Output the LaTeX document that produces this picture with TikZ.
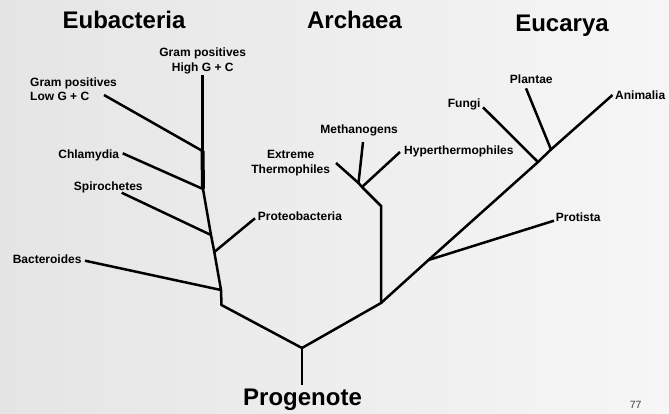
\documentclass[tikz,border=0pt]{standalone}
\usepackage{fontspec}
\setmainfont{Liberation Sans}
\definecolor{sfondosx}{HTML}{E5E5E5}
\definecolor{sfondodx}{HTML}{F6F6F6}
\definecolor{numero}{HTML}{404040}
\begin{document}
\begin{tikzpicture}[x=1pt, y=-1pt,
  ramo/.style={line width=2.5pt},
  taxon/.style={font=\fontsize{12}{14.4}\selectfont\bfseries, inner sep=0pt},
  dominio/.style={font=\fontsize{24}{28}\selectfont\bfseries, inner sep=0pt}]
% sfondo
\shade[left color=sfondosx, right color=sfondodx] (0, 0) rectangle (669, 413);
\useasboundingbox (0, 0) rectangle (669, 413);
% titoli
\node[dominio, anchor=base] (eub) at (124, 28) {Eubacteria};
\node[dominio, anchor=base] (arc) at (354.5, 28) {Archaea};
\node[dominio, anchor=base] (euc) at (562, 31) {Eucarya};
\node[dominio, anchor=base] (prog) at (302.5, 405) {Progenote};
\node[font=\fontsize{10.5}{12}\selectfont, text=numero, inner sep=0pt, anchor=base] (pag) at (635.7, 408) {77};
% radice
\coordinate (r0) at (302, 348);
\coordinate (pbase) at (302, 385);
\draw[ramo] (pbase) -- (r0);
% eubatteri
\coordinate (eb0) at (221.5, 305);
\coordinate (eb1) at (221, 290);
\coordinate (eb2) at (214.3, 252);
\coordinate (eb3) at (211, 235);
\coordinate (eb4) at (203, 189);
\coordinate (eb5) at (202.5, 151);
\coordinate (fHigh) at (202.5, 75);
\coordinate (fLow) at (104, 95);
\coordinate (fChl) at (122.7, 153.3);
\coordinate (fSpi) at (121.7, 192.7);
\coordinate (fPro) at (255, 218.3);
\coordinate (fBac) at (85, 260.7);
\node[taxon, align=center] (high) at (202.7, 61) {Gram positives\\High G + C};
\node[taxon, align=left, anchor=west] (low) at (30, 89.5) {Gram positives\\Low G + C};
\node[taxon, anchor=base east] (chl) at (119.3, 158.3) {Chlamydia};
\node[taxon, anchor=base] (spi) at (108.3, 190) {Spirochetes};
\node[taxon, anchor=base west] (pro) at (257.7, 220.7) {Proteobacteria};
\node[taxon, anchor=base east] (bac) at (81.7, 263.3) {Bacteroides};
\draw[ramo] (r0) -- (eb0) -- (eb1) -- (eb2) -- (eb3) -- (eb4);
\draw[line width=4pt] (eb4) -- (eb5);
\draw[ramo] (eb5) -- (fHigh);
\draw[ramo] (eb5) -- (fLow);
\draw[ramo] (eb4) -- (fChl);
\draw[ramo] (eb3) -- (fSpi);
\draw[ramo] (eb2) -- (fPro);
\draw[ramo] (eb1) -- (fBac);
% archei
\coordinate (ar0) at (381, 303);
\coordinate (ar1) at (381, 206);
\coordinate (ar2) at (362, 187);
\coordinate (ar3) at (358.5, 183);
\coordinate (fMet) at (363, 142);
\coordinate (fExt) at (336, 163);
\coordinate (fHyp) at (400, 152);
\node[taxon, align=center] (ext) at (290.7, 163) {Extreme\\Thermophiles};
\node[taxon, anchor=base east] (met) at (398, 133.5) {Methanogens};
\node[taxon, anchor=base west] (hyp) at (404, 154) {Hyperthermophiles};
\draw[ramo] (r0) -- (ar0) -- (ar1) -- (ar2) -- (ar3) -- (fExt);
\draw[ramo] (ar3) -- (fMet);
\draw[ramo] (ar2) -- (fHyp);
% eucarioti
\coordinate (eu1) at (428.5, 260);
\coordinate (eu2) at (538, 162);
\coordinate (eu3) at (551, 149.5);
\coordinate (fAni) at (612.5, 95);
\coordinate (fPrt) at (554, 220.7);
\coordinate (fFun) at (483, 107.3);
\coordinate (fPla) at (526, 88.3);
\node[taxon, anchor=base west] (ani) at (615, 99) {Animalia};
\node[taxon, anchor=base west] (prt) at (555.7, 221.7) {Protista};
\node[taxon, anchor=base east] (fun) at (480.7, 107.3) {Fungi};
\node[taxon, anchor=base] (pla) at (531.3, 83.3) {Plantae};
\draw[ramo] (ar0) -- (eu1) -- (eu2) -- (eu3) -- (fAni);
\draw[ramo] (eu1) -- (fPrt);
\draw[ramo] (eu2) -- (fFun);
\draw[ramo] (eu3) -- (fPla);
\end{tikzpicture}
\end{document}
